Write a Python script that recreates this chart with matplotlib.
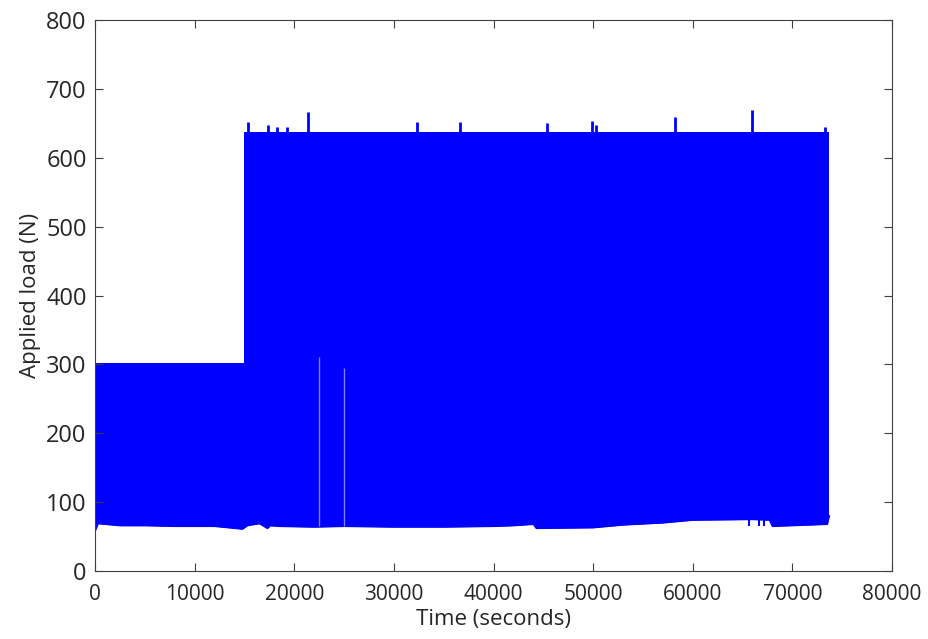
import matplotlib
matplotlib.use('Agg')
import matplotlib.pyplot as plt

# Envelope of the cyclic load signal
upper_t = [0, 15000, 73700]
upper_n = [302, 638, 638]

lower_t = [0, 300, 1000, 2500, 5000, 8000, 12000, 14800, 15300, 16500, 17300,
           17600, 18500, 22000, 25000, 30000, 35000, 40000, 42000, 44000, 44300,
           50000, 53000, 57000, 60000, 66000, 67700, 68000, 73500, 73700]
lower_n = [58, 69, 68, 66, 66, 65, 65, 61, 66, 69, 62,
           66, 65, 64, 65, 64, 64, 65, 66, 68, 62,
           63, 67, 70, 74, 75, 74, 65, 68, 80]

# Isolated peaks above the upper envelope
spike_t = [15400, 17400, 18300, 19300, 21400, 32300, 36600, 45400, 49900,
           50300, 58200, 65900, 73300]
spike_n = [652, 647, 645, 645, 667, 652, 652, 650, 653, 647, 659, 670, 644]

# Downward notches on the lower envelope
notch_t = [65600, 66600, 67100]
notch_n = [66, 66, 66]

# Thin gaps inside the signal band
gap_t = [22500, 25000]
gap_n = [310, 295]

blue = '#0000ff'

fig = plt.figure(figsize=(9.29, 6.39), dpi=100)
ax = fig.add_axes([0.1023, 0.1064, 0.8579, 0.8623])

ax.fill_between(upper_t, upper_n, step='post', color=blue, lw=0)
ax.fill_between(lower_t, 0, lower_n, color='white', lw=0)
ax.plot(lower_t, lower_n, color=blue, lw=1.2)
ax.vlines(spike_t, 630, spike_n, color=blue, lw=2)
ax.vlines(notch_t, notch_n, 76, color=blue, lw=1.5)
ax.vlines(gap_t, 65, gap_n, color='#7f7fff', lw=1)
ax.vlines([0], 58, 302, color=blue, lw=1.5)

ax.set_xlim(0, 80000)
ax.set_ylim(0, 800)
ax.set_xticks(range(0, 80001, 10000))
ax.set_yticks(range(0, 801, 100))
ax.tick_params(direction='in', length=6, top=True, right=True, colors='#404040',
               labelcolor='#262626')
ax.tick_params(axis='x', labelsize=15, pad=9)
ax.tick_params(axis='y', labelsize=17, pad=6)
for s in ax.spines.values():
    s.set_color('#404040')

font = 'Open Sans'
for lbl in ax.get_xticklabels() + ax.get_yticklabels():
    lbl.set_family(font)
ax.set_xlabel('Time (seconds)', fontsize=16, family=font, color='#262626', labelpad=3)
ax.set_ylabel('Applied load (N)', fontsize=16, family=font, color='#262626', labelpad=4)

fig.savefig('out.png', dpi=100)
